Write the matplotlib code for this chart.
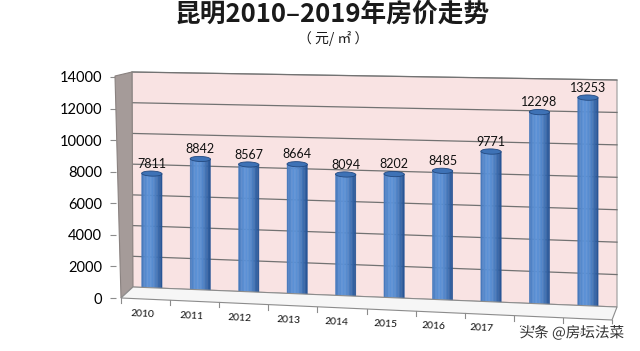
import numpy as np
import matplotlib
matplotlib.use("Agg")
import matplotlib.pyplot as plt
import matplotlib.transforms as mtransforms
from matplotlib.patches import Rectangle, Ellipse, Polygon
import matplotlib.patheffects as pe

years = ['2010', '2011', '2012', '2013', '2014', '2015', '2016', '2017', '2018', '2019']
prices = [7811, 8842, 8567, 8664, 8094, 8202, 8485, 9771, 12298, 13253]
yticks = [0, 2000, 4000, 6000, 8000, 10000, 12000, 14000]

title = '昆明2010–2019年房价走势'
subtitle = '（ 元/ ㎡ ）'
watermark = '头条 @房坛法菜'

W, H = 640, 351
VMAX = 14000
XL, XR = -0.41, 9.6


def px(x, y):
    # pixel position (from top-left) -> figure fraction
    return (x / W, 1 - y / H)


class Persp(mtransforms.Transform):
    """fake 3D: the floor and top of the back wall drop towards the right"""
    input_dims = output_dims = 2
    is_separable = False
    has_inverse = False

    def __init__(self, drop0, drop1):
        super().__init__()
        self.drop0 = drop0
        self.drop1 = drop1

    def transform_non_affine(self, values):
        xy = np.asarray(values, dtype=float).reshape(-1, 2)
        f = (xy[:, 0] - XL) / (XR - XL)
        y = xy[:, 1] - f * (self.drop0 + (self.drop1 - self.drop0) * xy[:, 1] / VMAX)
        return np.column_stack([xy[:, 0], y])


fig = plt.figure(figsize=(6.4, 3.51), dpi=100)
fig.patch.set_facecolor('white')

# back wall axes
x0, y0 = px(132, 287)
x1, y1 = px(617, 72)
ax = fig.add_axes([x0, y0, x1 - x0, y1 - y0])
ax.set_xlim(XL, XR)
ax.set_ylim(0, VMAX)
ax.set_axis_off()

drop0 = 20 / 215 * VMAX
drop1 = 8 / 215 * VMAX
wall_tr = Persp(drop0, drop1) + ax.transData
bar_tr = mtransforms.offset_copy(wall_tr, fig=fig, x=0, y=-6, units='dots')

# left wall and floor (decoration)
fig.patches.append(Polygon([px(115, 76), px(132, 72), px(133, 287), px(121, 298)],
                           closed=True, transform=fig.transFigure,
                           facecolor='#a59b99', edgecolor='#8a8280', lw=0.8, zorder=0))
fig.patches.append(Polygon([px(121, 298), px(133, 287), px(617, 307), px(612, 320)],
                           closed=True, transform=fig.transFigure,
                           facecolor='#f6f6f6', edgecolor='#8c8c8c', lw=0.8, zorder=0))
for t in np.linspace(0, 1, 11):
    fx = 121 + t * (612 - 121)
    fy = 298 + t * (320 - 298)
    fig.lines.append(plt.Line2D([fx / W, fx / W], [1 - fy / H, 1 - (fy + 5) / H],
                                transform=fig.transFigure, color='#8c8c8c', lw=0.8))

# back wall
ax.add_patch(Rectangle((XL, 0), XR - XL, VMAX, transform=wall_tr,
                       facecolor='#f9e3e3', edgecolor='#9a9a9a', lw=0.8, clip_on=False, zorder=0))
for v in yticks[1:]:
    ax.plot([XL, XR], [v, v], transform=wall_tr, color='#727272', lw=0.9,
            clip_on=False, zorder=1)

# cylinders
bw = 0.21
eh = 330
nstrip = 14
edges = np.linspace(-bw, bw, nstrip + 1)
dark = np.array([0.12, 0.29, 0.54])
light = np.array([0.36, 0.57, 0.84])
for i, v in enumerate(prices):
    ax.add_patch(Ellipse((i, 0), 2 * bw, eh, transform=bar_tr, facecolor='#264f8a',
                         edgecolor='none', clip_on=False, zorder=2))
    for k in range(nstrip):
        c = 0.5 * (edges[k] + edges[k + 1]) / bw
        s = max(0.0, np.cos((c + 0.25) * 1.15)) ** 1.2
        col = dark + (light - dark) * s
        ax.add_patch(Rectangle((edges[k], 0), edges[k + 1] - edges[k], v,
                               transform=mtransforms.Affine2D().translate(i, 0) + bar_tr,
                               facecolor=col, edgecolor=col, lw=0.3, clip_on=False, zorder=3))
    ax.add_patch(Ellipse((i, v), 2 * bw, eh, transform=bar_tr, facecolor='#3e72b6',
                         edgecolor='#23497f', lw=0.6, clip_on=False, zorder=4))
    ax.text(i, v + 250, f'{v}', transform=bar_tr, ha='center', va='bottom',
            fontsize=9, family='Lato', color='#111111', zorder=5)
    lab_tr = mtransforms.offset_copy(bar_tr, fig=fig, x=-9, y=-20, units='dots')
    ax.text(i, 0, years[i], transform=lab_tr, ha='center', va='center', rotation=-3,
            fontsize=7.5, family='Lato', color='#111111', zorder=5)

# front value axis
fx0, fy0 = px(116, 298)
fx1, fy1 = px(117, 77)
axf = fig.add_axes([fx0, fy0, fx1 - fx0, fy1 - fy0])
axf.set_ylim(0, VMAX)
axf.set_yticks(yticks)
axf.set_yticklabels([str(t) for t in yticks], family='Lato', fontsize=10.5)
axf.set_xticks([])
axf.patch.set_alpha(0)
for s in ['top', 'right', 'bottom', 'left']:
    axf.spines[s].set_visible(False)
axf.tick_params(axis='y', length=4, width=0.8, color='#8c8c8c', pad=6)

# titles
cjk = ['Noto Sans CJK SC', 'DejaVu Sans']
fig.text(332 / W, 1 - 14 / H, title, ha='center', va='center', fontsize=18.5,
         family=cjk, weight='bold', color='#1a1a1a')
fig.text(333 / W, 1 - 38 / H, subtitle, ha='center', va='center', fontsize=10,
         family=cjk, color='#1a1a1a')
fig.text(572 / W, 1 - 333 / H, watermark, ha='center', va='center', fontsize=10.5,
         family=cjk, color='#333333',
         path_effects=[pe.withStroke(linewidth=2, foreground='white')])

fig.savefig('out.png', dpi=100)
